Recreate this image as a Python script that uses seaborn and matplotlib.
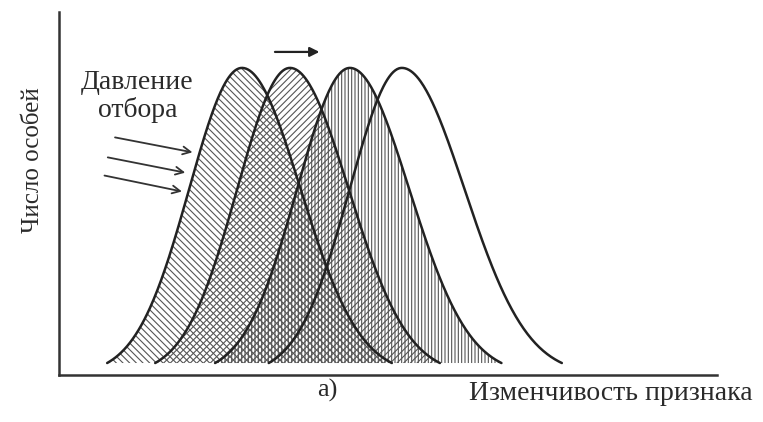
import numpy as np
import pandas as pd
import matplotlib.pyplot as plt
import seaborn as sns

# peak positions of the four successive distributions (trait units)
peaks = [2.78, 3.51, 4.42, 5.21]
sigma_left = [0.80, 0.80, 0.80, 0.79]
sigma_right = [0.89, 0.89, 0.90, 0.95]
peak_height = [0.846, 0.846, 0.846, 0.846]
base_level = 0.033
hatches = ["\\\\\\\\\\", "/////", "|||||", ""]

W, H = 763, 422
sns.set_style("white")
plt.rcParams["font.family"] = ["Liberation Serif", "DejaVu Serif"]
plt.rcParams["hatch.linewidth"] = 0.8

rows = []
for i, m in enumerate(peaks):
    sl, sr = sigma_left[i], sigma_right[i]
    x = np.linspace(m - 2.56 * sl, m + 2.56 * sr, 300)
    s = np.where(x < m, sl, sr)
    g = np.exp(-((x - m) ** 2) / (2 * s ** 2))
    y = base_level + (peak_height[i] - base_level) * (g - g.min()) / (1 - g.min())
    rows.append(pd.DataFrame({"x": x, "y": y, "curve": f"c{i}"}))
df = pd.concat(rows, ignore_index=True)

fig = plt.figure(figsize=(W / 100, H / 100), dpi=100)
ax = fig.add_axes([59 / W, 1 - 375 / H, (717 - 59) / W, (375 - 12) / H])

for i, (name, grp) in enumerate(df.groupby("curve", sort=True)):
    if hatches[i]:
        ax.fill_between(grp["x"], base_level, grp["y"], facecolor="none",
                        edgecolor="#555555", hatch=hatches[i], linewidth=0)

sns.lineplot(data=df, x="x", y="y", hue="curve", palette=["#222222"] * 4,
             linewidth=1.8, legend=False, ax=ax, sort=False)

ax.set_xlim(0, 10)
ax.set_ylim(0, 1)
ax.set_xticks([])
ax.set_yticks([])
ax.set_xlabel("")
ax.set_ylabel("")
for side in ["top", "right"]:
    ax.spines[side].set_visible(False)
for side in ["left", "bottom"]:
    ax.spines[side].set_color("#333333")
    ax.spines[side].set_linewidth(1.8)

# selection pressure arrows
arrows = [((0.81, 0.656), (2.07, 0.612)),
          ((0.70, 0.601), (1.96, 0.556)),
          ((0.65, 0.551), (1.91, 0.504))]
for start, end in arrows:
    ax.annotate("", xy=end, xytext=start,
                arrowprops=dict(arrowstyle="->", color="#333333", lw=1.3,
                                mutation_scale=14))
ax.annotate("", xy=(4.00, 0.89), xytext=(3.24, 0.89),
            arrowprops=dict(arrowstyle="-|>", color="#222222", lw=1.6,
                            mutation_scale=14))

txt = dict(color="#2a2a2a")
ax.text(1.19, 0.766, "Давление\nотбора", ha="center", va="center",
        linespacing=1.1, fontsize=20, **txt)
fig.text(33 / W, 1 - 160 / H, "Число особей", rotation=90, ha="center",
         va="center", fontsize=18, **txt)
fig.text(611 / W, 1 - 393 / H, "Изменчивость признака", ha="center",
         va="center", fontsize=20, **txt)
fig.text(327 / W, 1 - 390 / H, "а)", ha="center", va="center",
         fontsize=19, **txt)

fig.savefig("out.png", dpi=100)
plt.close(fig)
